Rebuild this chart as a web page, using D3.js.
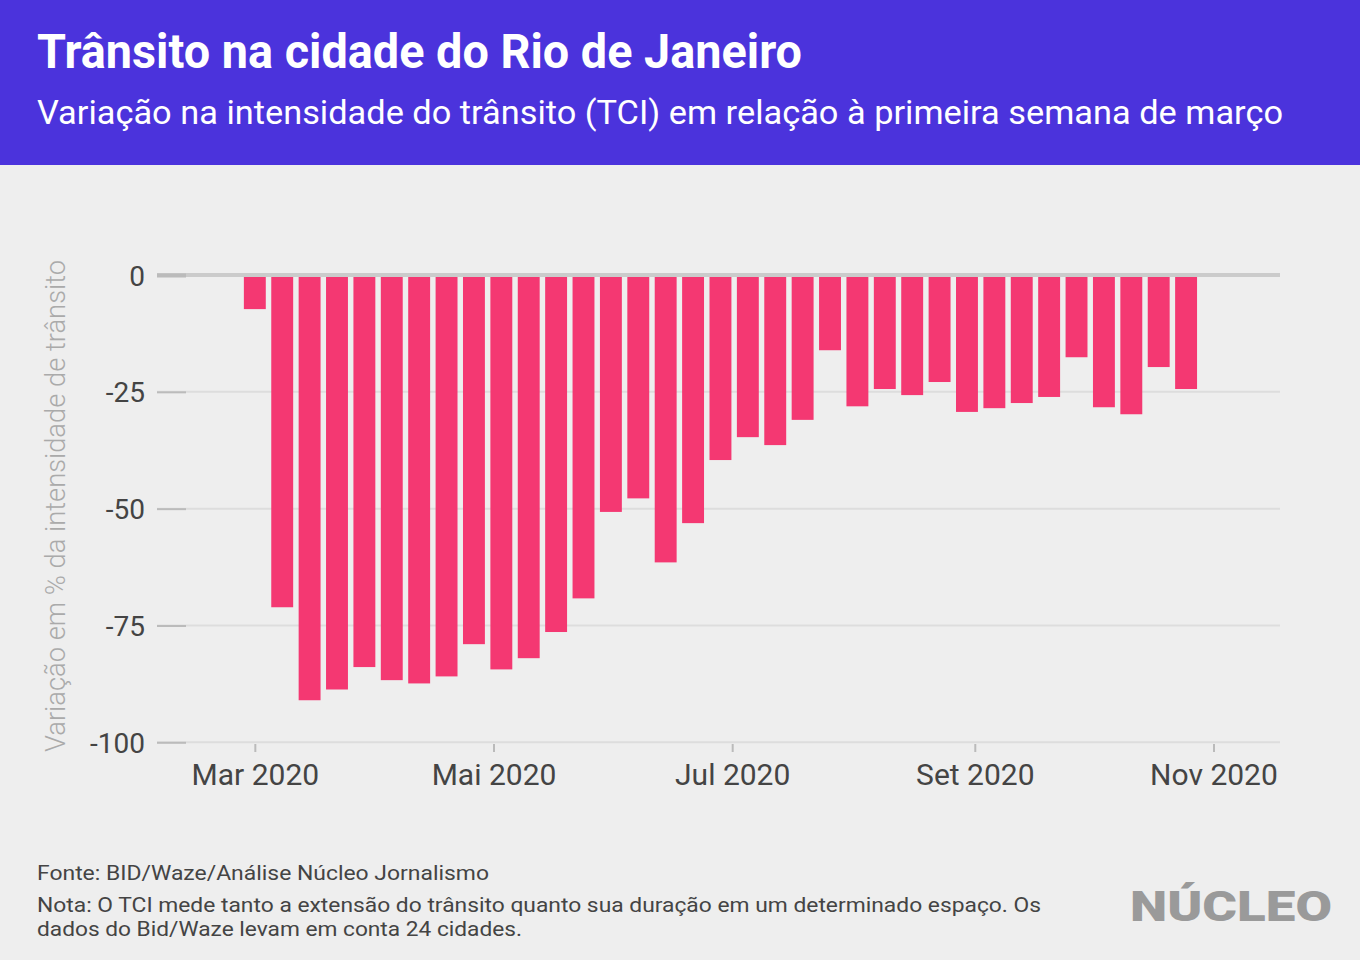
<!DOCTYPE html>
<html>
<head>
<meta charset="utf-8">
<script src="https://cdn.jsdelivr.net/npm/d3@7"></script>
<style>
  html, body { margin: 0; padding: 0; background: #eeeeee; }
  svg { display: block; }
</style>
</head>
<body>
<svg id="chart" width="1360" height="960"></svg>
<script>
const weeks = [
  "2020-03-01","2020-03-08","2020-03-15","2020-03-22","2020-03-29",
  "2020-04-05","2020-04-12","2020-04-19","2020-04-26",
  "2020-05-03","2020-05-10","2020-05-17","2020-05-24","2020-05-31",
  "2020-06-07","2020-06-14","2020-06-21","2020-06-28",
  "2020-07-05","2020-07-12","2020-07-19","2020-07-26",
  "2020-08-02","2020-08-09","2020-08-16","2020-08-23","2020-08-30",
  "2020-09-06","2020-09-13","2020-09-20","2020-09-27",
  "2020-10-04","2020-10-11","2020-10-18","2020-10-25"
];
const tciChange = [
  -7.3, -71.1, -91.0, -88.7, -83.9,
  -86.7, -87.4, -85.9, -79.0,
  -84.4, -82.0, -76.4, -69.2, -50.7,
  -47.8, -61.5, -53.1, -39.6,
  -34.7, -36.4, -31.0, -16.1,
  -28.1, -24.4, -25.7, -22.9, -29.3,
  -28.5, -27.4, -26.1, -17.6,
  -28.3, -29.8, -19.7, -24.4
];
const yTicks = [0, -25, -50, -75, -100];
const xTickDates = ["2020-03-01","2020-05-01","2020-07-01","2020-09-01","2020-11-01"];
const xTickLabels = ["Mar 2020","Mai 2020","Jul 2020","Set 2020","Nov 2020"];
const xDomain = ["2020-02-05","2020-11-18"];

const title = "Trânsito na cidade do Rio de Janeiro";
const subtitle = "Variação na intensidade do trânsito (TCI) em relação à primeira semana de março";
const yTitle = "Variação em % da intensidade de trânsito";
const source = "Fonte: BID/Waze/Análise Núcleo Jornalismo";
const noteLines = [
  "Nota: O TCI mede tanto a extensão do trânsito quanto sua duração em um determinado espaço. Os",
  "dados do Bid/Waze levam em conta 24 cidades."
];
const logo = "NÚCLEO";

const parse = d3.utcParse("%Y-%m-%d");
const data = weeks.map((w, i) => ({ date: parse(w), value: tciChange[i] }));

const svg = d3.select("#chart");
const FONT = "Roboto, 'Noto Sans', sans-serif";

svg.append("rect").attr("width", 1360).attr("height", 960).attr("fill", "#eeeeee");

// header
svg.append("rect").attr("x", 0).attr("y", 0).attr("width", 1360).attr("height", 165).attr("fill", "#4b33dc");
svg.append("text").attr("x", 37).attr("y", 68)
  .attr("font-family", FONT).attr("font-weight", 700).attr("font-size", 48)
  .attr("fill", "#ffffff").attr("textLength", 765).attr("lengthAdjust", "spacingAndGlyphs")
  .text(title);
svg.append("text").attr("x", 37).attr("y", 124)
  .attr("font-family", FONT).attr("font-weight", 400).attr("font-size", 34)
  .attr("fill", "#ffffff").attr("textLength", 1246).attr("lengthAdjust", "spacingAndGlyphs")
  .text(subtitle);

// scales
const x = d3.scaleUtc().domain(xDomain.map(parse)).range([157, 1280]);
const y = d3.scaleLinear().domain([-100, 0]).range([742.3, 275]);

const step = x(parse(weeks[1])) - x(parse(weeks[0]));
const barW = step * 0.8;

// gridlines
svg.append("g").selectAll("line").data(yTicks).join("line")
  .attr("x1", 157).attr("x2", 1280)
  .attr("y1", d => y(d)).attr("y2", d => y(d))
  .attr("stroke", d => d === 0 ? "#cbcbcb" : "#dddddd")
  .attr("stroke-width", d => d === 0 ? 4 : 2);

// bars
svg.append("g").selectAll("rect").data(data).join("rect")
  .attr("x", d => x(d.date) - barW / 2)
  .attr("width", barW)
  .attr("y", d => y(0))
  .attr("height", d => y(d.value) - y(0))
  .attr("fill", "#f43872");

// zero line on top
svg.append("line").attr("x1", 157).attr("x2", 1280)
  .attr("y1", y(0)).attr("y2", y(0))
  .attr("stroke", "#cbcbcb").attr("stroke-width", 4);

// y axis
const yAxis = d3.axisLeft(y).tickValues(yTicks).tickSize(29).tickPadding(12).tickFormat(d => String(d));
const gy = svg.append("g").attr("transform", "translate(186,0)").call(yAxis);
gy.select(".domain").remove();
gy.selectAll(".tick line").attr("stroke", "#bbbbbb")
  .attr("stroke-width", d => d === 0 ? 4 : 2);
gy.selectAll(".tick text")
  .attr("font-family", FONT).attr("font-size", 28).attr("fill", "#444444")
  .attr("dy", "0.36em");

// x axis
const xAxis = d3.axisBottom(x).tickValues(xTickDates.map(parse)).tickSize(8).tickPadding(12)
  .tickFormat((d, i) => xTickLabels[i]);
const gx = svg.append("g").attr("transform", "translate(0,744)").call(xAxis);
gx.select(".domain").remove();
gx.selectAll(".tick line").attr("stroke", "#bbbbbb").attr("stroke-width", 2);
gx.selectAll(".tick text")
  .attr("font-family", FONT).attr("font-size", 30).attr("fill", "#444444");

// y title
svg.append("text")
  .attr("transform", "translate(65,506) rotate(-90)")
  .attr("text-anchor", "middle")
  .attr("font-family", FONT).attr("font-weight", 300).attr("font-size", 27)
  .attr("fill", "#aaaaaa").attr("textLength", 492).attr("lengthAdjust", "spacingAndGlyphs")
  .text(yTitle);

// footer
svg.append("text").attr("x", 37).attr("y", 880)
  .attr("font-family", FONT).attr("font-size", 21).attr("fill", "#444444")
  .attr("textLength", 452).attr("lengthAdjust", "spacingAndGlyphs")
  .text(source);
const noteWidths = [1004, 485];
noteLines.forEach((t, i) => {
  svg.append("text").attr("x", 37).attr("y", 912 + i * 24)
    .attr("font-family", FONT).attr("font-size", 21).attr("fill", "#444444")
    .attr("textLength", noteWidths[i]).attr("lengthAdjust", "spacingAndGlyphs")
    .text(t);
});

// logo
svg.append("text").attr("x", 1130).attr("y", 921)
  .attr("font-family", FONT).attr("font-weight", 900).attr("font-size", 43)
  .attr("fill", "#9a9a9a").attr("textLength", 202).attr("lengthAdjust", "spacingAndGlyphs")
  .text(logo);
</script>
</body>
</html>
